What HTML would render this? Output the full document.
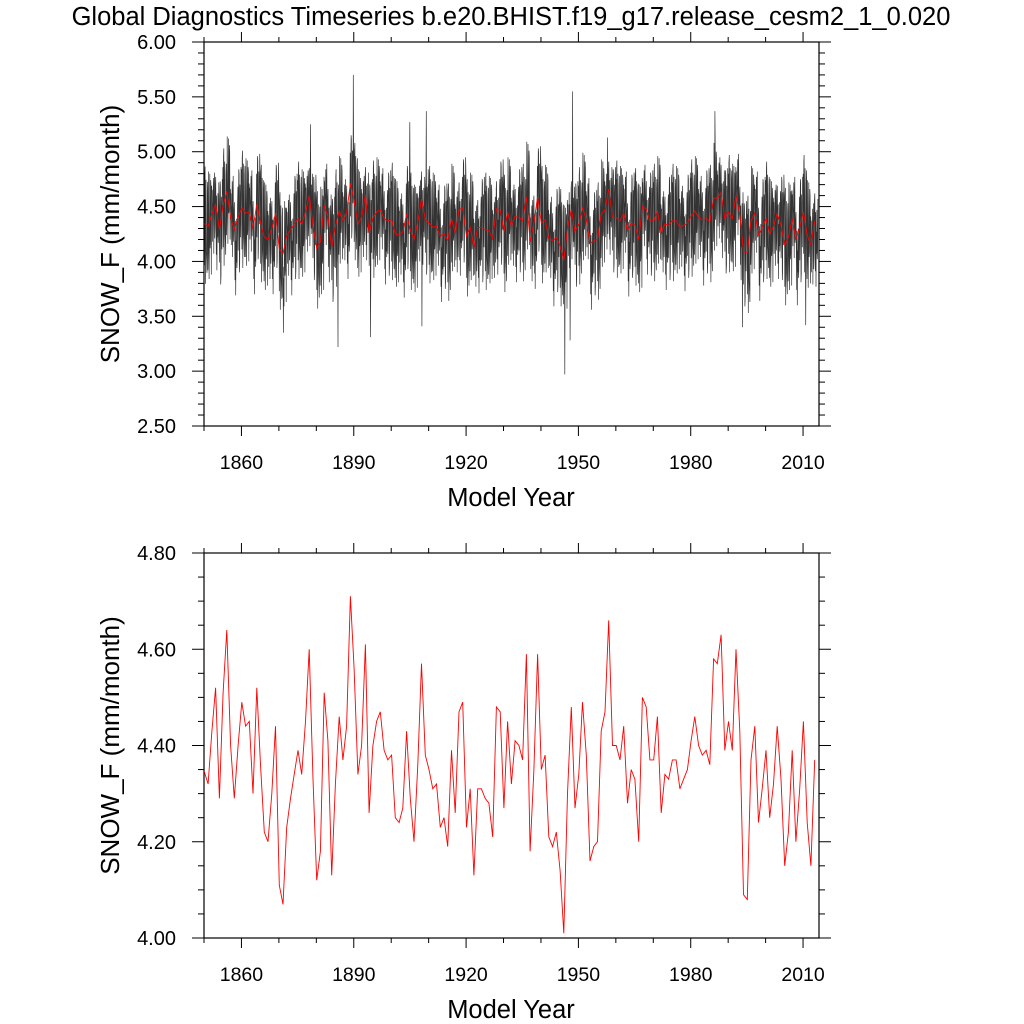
<!DOCTYPE html>
<html><head><meta charset="utf-8">
<style>
body{margin:0;background:#fff;}
svg{display:block;font-family:"Liberation Sans",sans-serif;}
</style></head>
<body>
<svg id="chart" width="1024" height="1024" viewBox="0 0 1024 1024" xmlns="http://www.w3.org/2000/svg">
<rect width="1024" height="1024" fill="#fff"/>
<text x="511" y="25" font-size="25.5" text-anchor="middle">Global Diagnostics Timeseries b.e20.BHIST.f19_g17.release_cesm2_1_0.020</text>
<g id="top"></g>
<g id="bot"></g>
</svg>
<script>
// Annual mean SNOW_F (mm/month), 1850..2013
const annualValues = [4.345,4.32,4.43,4.52,4.29,4.51,4.64,4.40,4.29,4.40,
4.49,4.44,4.45,4.30,4.52,4.36,4.22,4.20,4.30,4.44,
4.11,4.07,4.23,4.29,4.34,4.39,4.34,4.45,4.60,4.33,
4.12,4.18,4.51,4.41,4.13,4.32,4.46,4.37,4.44,4.71,
4.56,4.34,4.40,4.61,4.26,4.40,4.45,4.47,4.39,4.37,
4.38,4.25,4.24,4.27,4.43,4.29,4.20,4.36,4.57,4.38,
4.35,4.31,4.32,4.23,4.25,4.19,4.39,4.26,4.47,4.49,
4.23,4.31,4.13,4.31,4.31,4.29,4.28,4.21,4.48,4.47,
4.27,4.45,4.32,4.41,4.40,4.37,4.59,4.18,4.35,4.59,
4.35,4.38,4.21,4.19,4.22,4.14,4.01,4.30,4.48,4.27,
4.34,4.49,4.38,4.16,4.19,4.20,4.43,4.47,4.66,4.40,
4.40,4.37,4.44,4.28,4.35,4.33,4.20,4.50,4.48,4.37,
4.37,4.46,4.26,4.34,4.33,4.37,4.37,4.31,4.33,4.35,
4.41,4.46,4.40,4.38,4.39,4.36,4.58,4.57,4.63,4.39,
4.45,4.39,4.60,4.43,4.09,4.08,4.37,4.44,4.24,4.31,
4.39,4.25,4.32,4.44,4.33,4.15,4.22,4.39,4.20,4.31,
4.45,4.24,4.15,4.37];
const startYear = 1850;
// Typical monthly departures from the annual mean (estimated band of the monthly trace)
const monthlyAnomalies = [0.35,-0.30,0.22,-0.45,0.40,-0.12,0.48,-0.38,0.10,-0.25,0.30,-0.50,
0.18,-0.20,0.45,-0.35,0.05,0.38,-0.42,0.25,-0.15,0.52,-0.28,0.12,
-0.40,0.30,-0.08,0.42,-0.55,0.20,0.33,-0.22,0.15,-0.46,0.36,-0.05,
0.28,-0.36,0.50,-0.18,0.08,-0.44,0.40,-0.30,0.22,-0.12,0.46,-0.60,
0.26,-0.26,0.14,0.38,-0.48,0.32,-0.10,0.20,-0.34,0.44,-0.22,0.02];
// Notable monthly extremes: [decimal year, value]
const spikeYears = [1889.9,1909.4,1948.5,1957.8,1986.5,1905.0,1878.5,1885.8,1946.4,1947.8,1871.2,1908.2,1993.8,2010.7,1894.5];
const spikeValues = [5.70,5.37,5.55,5.13,5.37,5.27,5.25,3.22,2.97,3.28,3.35,3.41,3.40,3.42,3.31];

const topYTicks = [2.5,3.0,3.5,4.0,4.5,5.0,5.5,6.0];
const topYLabels = ["2.50","3.00","3.50","4.00","4.50","5.00","5.50","6.00"];
const botYTicks = [4.0,4.2,4.4,4.6,4.8];
const botYLabels = ["4.00","4.20","4.40","4.60","4.80"];
const xTicks = [1860,1890,1920,1950,1980,2010];
const xLabels = ["1860","1890","1920","1950","1980","2010"];

const NS="http://www.w3.org/2000/svg";
const L=204,R=819, X0=1850, X1=2014.26;
const xs = y => L + (y-X0)/(X1-X0)*(R-L);
function mk(tag,attrs,parent){const e=document.createElementNS(NS,tag);for(const k in attrs)e.setAttribute(k,attrs[k]);parent.appendChild(e);return e;}

function panel(g, T, B, ymin, ymax, yt, yl, minorStep, prefix){
  const ys = v => B - (v-ymin)/(ymax-ymin)*(B-T);
  const frame = mk('rect',{x:L,y:T,width:R-L,height:B-T,fill:'none',stroke:'#000','stroke-width':1.2},g);
  
  
  const n = Math.round((ymax-ymin)/minorStep);
  for(let i=0;i<=n;i++){
    const v=ymin+i*minorStep, y=ys(v);
    const major = yt.some(t=>Math.abs(t-v)<1e-6);
    const len = major?12:6;
    const t1=mk('line',{x1:L-len,x2:L,y1:y,y2:y,stroke:'#000','stroke-width':1},g);
    
    
    const t2=mk('line',{x1:R,x2:R+len,y1:y,y2:y,stroke:'#000','stroke-width':1},g);
    
    
  }
  yt.forEach((v,i)=>{
    const t=mk('text',{x:176,y:ys(v)+7,'font-size':20,'text-anchor':'end'},g);
    t.textContent=yl[i];
    
    
  });
  for(let yr=1850; yr<=2014; yr+=10){
    const x=xs(yr), major = xTicks.includes(yr), len=major?10:5;
    const a=mk('line',{x1:x,x2:x,y1:B,y2:B+len,stroke:'#000','stroke-width':1},g);
    
    
    const b=mk('line',{x1:x,x2:x,y1:T-len,y2:T,stroke:'#000','stroke-width':1},g);
    
    
  }
  xTicks.forEach((yr,i)=>{
    const t=mk('text',{x:xs(yr),y:B+43,'font-size':19.5,'text-anchor':'middle'},g);
    t.textContent=xLabels[i];
    
    
  });
  const xt=mk('text',{x:511,y:B+80,'font-size':25.5,'text-anchor':'middle'},g);
  xt.textContent='Model Year';
  
  
  const cy=(T+B)/2;
  const yti=mk('text',{x:119,y:cy,'font-size':26,'text-anchor':'middle',transform:`rotate(-90 119 ${cy})`},g);
  yti.textContent='SNOW_F (mm/month)';
  
  
  return ys;
}

const topG=document.getElementById('top'), botG=document.getElementById('bot');
const ysT = panel(topG,42,426,2.5,6.0,topYTicks,topYLabels,0.1,'top');
const ysB = panel(botG,553,938,4.0,4.8,botYTicks,botYLabels,0.05,'bottom');

const monthT=[], monthV=[];
let k=0;
annualValues.forEach((a,i)=>{
  for(let m=0;m<12;m++){
    monthT.push(startYear+i+(m+0.5)/12);
    monthV.push(a+monthlyAnomalies[k%monthlyAnomalies.length]);
    k+=7;
  }
});
spikeYears.forEach((yr,j)=>{
  let best=0,bd=1e9;
  monthT.forEach((t,i)=>{const d=Math.abs(t-yr);if(d<bd){bd=d;best=i;}});
  monthV[best]=spikeValues[j];
});
const mPts = monthT.map((t,i)=>xs(t).toFixed(1)+','+ysT(monthV[i]).toFixed(1)).join(' ');
const ml=mk('polyline',{points:mPts,fill:'none',stroke:'#000','stroke-width':0.7,'stroke-opacity':0.8},topG);



const aT = annualValues.map((v,i)=>startYear+i+0.1);
const aPtsT = aT.map((t,i)=>xs(t).toFixed(1)+','+ysT(annualValues[i]).toFixed(1)).join(' ');
const al=mk('polyline',{points:aPtsT,fill:'none',stroke:'#ff0000','stroke-width':0.9},topG);



const aPtsB = aT.map((t,i)=>xs(t).toFixed(1)+','+ysB(annualValues[i]).toFixed(1)).join(' ');
const bl=mk('polyline',{points:aPtsB,fill:'none',stroke:'#ff0000','stroke-width':0.9},botG);


</script>
</body></html>
